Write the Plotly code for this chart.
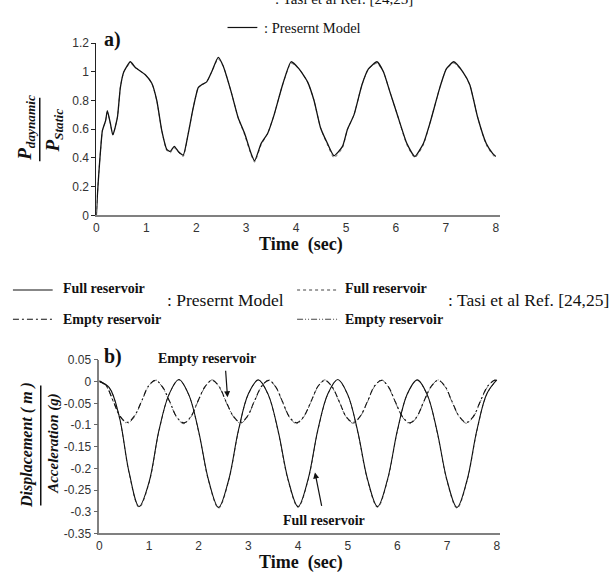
import plotly.graph_objects as go

W, H = 614, 578

# ---------------- data: panel a) ----------------
time_a = [0.0, 0.02, 0.05, 0.085, 0.12, 0.185, 0.22, 0.28, 0.33, 0.42, 0.48, 0.55, 0.68, 0.78,
          0.98, 1.11, 1.21, 1.31, 1.41, 1.48, 1.56, 1.64, 1.74, 1.84, 1.94, 2.04, 2.11, 2.21,
          2.31, 2.44, 2.54, 2.70, 2.84, 2.97, 3.10, 3.17, 3.30, 3.43, 3.56, 3.73, 3.90, 4.06,
          4.23, 4.36, 4.49, 4.63, 4.76, 4.93, 5.03, 5.16, 5.32, 5.45, 5.62, 5.75, 5.88, 6.02,
          6.22, 6.38, 6.55, 6.68, 6.88, 7.01, 7.16, 7.34, 7.48, 7.64, 7.81, 7.94, 8.0]
present_a = [0.0, 0.14, 0.30, 0.46, 0.59, 0.66, 0.73, 0.64, 0.56, 0.68, 0.89, 1.00, 1.07, 1.03,
             0.98, 0.92, 0.80, 0.59, 0.46, 0.445, 0.48, 0.445, 0.42, 0.57, 0.75, 0.89, 0.91, 0.93,
             1.00, 1.10, 1.04, 0.86, 0.68, 0.57, 0.43, 0.38, 0.50, 0.57, 0.70, 0.91, 1.07, 1.02,
             0.93, 0.80, 0.61, 0.50, 0.415, 0.48, 0.60, 0.70, 0.91, 1.02, 1.07, 1.00, 0.86, 0.71,
             0.50, 0.41, 0.50, 0.64, 0.89, 1.02, 1.07, 1.00, 0.91, 0.68, 0.50, 0.43, 0.41]
tasi_a = [0.0, 0.14, 0.30, 0.46, 0.59, 0.66, 0.72, 0.64, 0.56, 0.68, 0.89, 1.00, 1.06, 1.03,
          0.98, 0.92, 0.80, 0.59, 0.45, 0.435, 0.47, 0.44, 0.41, 0.57, 0.75, 0.89, 0.91, 0.93,
          1.00, 1.09, 1.04, 0.86, 0.68, 0.56, 0.42, 0.37, 0.49, 0.57, 0.70, 0.91, 1.06, 1.02,
          0.93, 0.80, 0.61, 0.49, 0.40, 0.47, 0.60, 0.70, 0.91, 1.02, 1.06, 1.00, 0.86, 0.71,
          0.49, 0.40, 0.49, 0.64, 0.89, 1.02, 1.06, 1.00, 0.91, 0.68, 0.49, 0.42, 0.40]

# ---------------- data: panel b) ----------------
time_full = [0.0, 0.2, 0.4, 0.6, 0.8, 1.0, 1.2, 1.4, 1.6, 1.8, 2.0, 2.2, 2.4, 2.6, 2.8, 3.0,
             3.2, 3.4, 3.6, 3.8, 4.0, 4.2, 4.4, 4.6, 4.8, 5.0, 5.2, 5.4, 5.6, 5.8, 6.0, 6.2,
             6.4, 6.6, 6.8, 7.0, 7.2, 7.4, 7.6, 7.8, 8.0]
present_full = [0.0, -0.014, -0.080, -0.210, -0.288, -0.232, -0.112, -0.030, 0.005, -0.030,
                -0.115, -0.228, -0.290, -0.228, -0.112, -0.028, 0.004, -0.030, -0.114, -0.226,
                -0.288, -0.226, -0.110, -0.028, 0.005, -0.030, -0.114, -0.226, -0.288, -0.226,
                -0.112, -0.028, 0.004, -0.030, -0.115, -0.228, -0.290, -0.228, -0.112, -0.028,
                0.004]
tasi_full = [0.0, -0.015, -0.082, -0.212, -0.290, -0.234, -0.114, -0.031, 0.004, -0.031,
             -0.117, -0.230, -0.292, -0.230, -0.114, -0.029, 0.003, -0.031, -0.116, -0.228,
             -0.290, -0.228, -0.112, -0.029, 0.004, -0.031, -0.116, -0.228, -0.290, -0.228,
             -0.114, -0.029, 0.003, -0.031, -0.117, -0.230, -0.292, -0.230, -0.114, -0.029,
             0.003]

time_empty = [0.00, 0.14, 0.28, 0.42, 0.56, 0.70, 0.85, 0.99, 1.13, 1.27, 1.42, 1.56, 1.70,
              1.84, 1.98, 2.13, 2.27, 2.41, 2.55, 2.70, 2.84, 2.98, 3.12, 3.27, 3.41, 3.55,
              3.69, 3.83, 3.97, 4.11, 4.26, 4.40, 4.54, 4.68, 4.83, 4.97, 5.11, 5.25, 5.40,
              5.54, 5.68, 5.82, 5.96, 6.11, 6.25, 6.39, 6.53, 6.68, 6.82, 6.96, 7.10, 7.25,
              7.39, 7.53, 7.67, 7.82, 7.96, 8.00]
present_empty = [0.002, -0.010, -0.045, -0.080, -0.094, -0.080, -0.045, -0.010, 0.003, -0.012,
                 -0.047, -0.082, -0.095, -0.081, -0.046, -0.011, 0.003, -0.011, -0.046, -0.080,
                 -0.094, -0.080, -0.045, -0.010, 0.003, -0.012, -0.047, -0.082, -0.095, -0.081,
                 -0.046, -0.011, 0.003, -0.011, -0.046, -0.081, -0.094, -0.080, -0.045, -0.010,
                 0.003, -0.012, -0.047, -0.082, -0.095, -0.081, -0.046, -0.011, 0.003, -0.011,
                 -0.046, -0.081, -0.094, -0.080, -0.045, -0.010, 0.003, 0.002]
tasi_empty = [0.002, -0.011, -0.046, -0.081, -0.096, -0.082, -0.046, -0.011, 0.004, -0.013,
              -0.048, -0.083, -0.097, -0.082, -0.047, -0.012, 0.004, -0.012, -0.047, -0.081,
              -0.096, -0.081, -0.046, -0.011, 0.004, -0.013, -0.048, -0.083, -0.097, -0.082,
              -0.047, -0.012, 0.004, -0.012, -0.047, -0.082, -0.096, -0.081, -0.046, -0.011,
              0.004, -0.013, -0.048, -0.083, -0.097, -0.082, -0.047, -0.012, 0.004, -0.012,
              -0.047, -0.082, -0.096, -0.081, -0.046, -0.011, 0.004, 0.003]

ticks_a = [0, 0.2, 0.4, 0.6, 0.8, 1.0, 1.2]
ticktext_a = ["0", "0.2", "0.4", "0.6", "0.8", "1", "1.2"]
ticks_b = [0.05, 0, -0.05, -0.1, -0.15, -0.2, -0.25, -0.3, -0.35]
ticktext_b = ["0.05", "0", "-0.05", "-0.1", "-0.15", "-0.2", "-0.25", "-0.3", "-0.35"]
ticks_x = [0, 1, 2, 3, 4, 5, 6, 7, 8]


def px(x):
    return x / W


def py(y):
    return 1 - y / H


SERIF = "Liberation Serif, Times New Roman, serif"
SANS = "Liberation Sans, Arial, sans-serif"

fig = go.Figure()

# panel a)
fig.add_trace(go.Scatter(x=time_a, y=tasi_a, mode="lines", xaxis="x", yaxis="y",
                         line=dict(color="#777777", width=1, dash="dot", shape="spline", smoothing=0.5),
                         showlegend=False))
fig.add_trace(go.Scatter(x=time_a, y=present_a, mode="lines", xaxis="x", yaxis="y",
                         line=dict(color="#111111", width=1.3, shape="spline", smoothing=0.5),
                         showlegend=False))

# panel b)
fig.add_trace(go.Scatter(x=time_full, y=tasi_full, mode="lines", xaxis="x2", yaxis="y2",
                         line=dict(color="#666666", width=1, dash="dot", shape="spline", smoothing=1.0),
                         showlegend=False))
fig.add_trace(go.Scatter(x=time_empty, y=tasi_empty, mode="lines", xaxis="x2", yaxis="y2",
                         line=dict(color="#666666", width=1, dash="6px,2px,1px,2px,1px,2px", shape="spline", smoothing=1.0),
                         showlegend=False))
fig.add_trace(go.Scatter(x=time_full, y=present_full, mode="lines", xaxis="x2", yaxis="y2",
                         line=dict(color="#111111", width=1.1, shape="spline", smoothing=1.0),
                         showlegend=False))
fig.add_trace(go.Scatter(x=time_empty, y=present_empty, mode="lines", xaxis="x2", yaxis="y2",
                         line=dict(color="#111111", width=1.1, dash="6px,3px,2px,3px", shape="spline", smoothing=1.0),
                         showlegend=False))

axis_common = dict(showgrid=False, zeroline=False, tickfont=dict(family=SANS, size=12, color="#333333"))

fig.update_layout(
    width=W, height=H,
    margin=dict(l=0, r=0, t=0, b=0),
    paper_bgcolor="white", plot_bgcolor="white",
    xaxis=dict(domain=[px(94), px(500)], range=[0, 8.08], tickvals=ticks_x, ticks="",
               showline=True, linecolor="#808080", linewidth=2, anchor="y", **axis_common),
    yaxis=dict(domain=[py(213.5), py(37)], range=[0, 1.2], tickvals=ticks_a, ticktext=ticktext_a,
               ticks="outside", ticklen=4, tickcolor="#222222", showline=True, linecolor="#222222",
               linewidth=1, anchor="x", **axis_common),
    xaxis2=dict(domain=[px(97), px(500)], range=[0, 8.06], tickvals=ticks_x, ticks="",
                showline=True, linecolor="#808080", linewidth=2, anchor="y2", **axis_common),
    yaxis2=dict(domain=[py(539.5), py(361.7)], range=[-0.35, 0.05], tickvals=ticks_b, ticktext=ticktext_b,
                ticks="outside", ticklen=4, tickcolor="#666666", showline=True, linecolor="#808080",
                linewidth=1.5, anchor="x2", **axis_common),
)

ann = []
shapes = []


def text(x, y, t, size, xanchor="left", family=SERIF, angle=0, color="#111111"):
    ann.append(dict(x=px(x), y=py(y), xref="paper", yref="paper", text=t, showarrow=False,
                    xanchor=xanchor, yanchor="middle", textangle=angle,
                    font=dict(family=family, size=size, color=color)))


def seg(x0, y0, x1, y1, dash="solid", color="#111111", width=1.2):
    shapes.append(dict(type="line", xref="paper", yref="paper", x0=px(x0), y0=py(y0),
                       x1=px(x1), y1=py(y1), line=dict(color=color, width=width, dash=dash)))


# partial (cropped) line at very top
text(272, -8, ": Tasi et al Ref. [24,25]", 15)

# top legend
seg(226, 21, 256, 21)
text(261, 22, ": Presernt Model", 14.5)

# panel labels
text(100, 33, "<b>a)</b>", 20)
text(100, 358, "<b>b)</b>", 20)

# panel a) y title (fraction)
text(23, 124, "<b><i>P</i></b><sub><b><i>daynamic</i></b></sub>", 19, xanchor="center", angle=-90)
seg(37, 93, 37, 158, width=1.5)
text(51, 127, "<b><i>P</i></b><sub><b><i>Static</i></b></sub>", 19, xanchor="center", angle=-90)

# x titles
text(300, 243, "<b>Time  (sec)</b>", 18, xanchor="center")
text(300, 569, "<b>Time  (sec)</b>", 18, xanchor="center")

# middle legend
seg(10, 290, 50, 290)
text(58, 288, "<b>Full reservoir</b>", 14)
seg(10, 320, 50, 320, dash="6px,3px,2px,3px")
text(58, 320, "<b>Empty reservoir</b>", 14)
text(163, 300, ": Presernt Model", 17.5)
seg(296, 290, 338, 290, dash="dot", color="#444444")
text(342, 288, "<b>Full reservoir</b>", 14)
seg(296, 320, 338, 320, dash="6px,2px,1px,2px,1px,2px", color="#444444")
text(342, 320, "<b>Empty reservoir</b>", 14)
text(446, 300, ": Tasi et al Ref. [24,25]", 17.5)

# panel b) y title (fraction)
text(24, 449, "<b><i>Displacement ( m )</i></b>", 16, xanchor="center", angle=-90)
seg(38, 388, 38, 511, width=1.5)
text(50, 447, "<b><i>Acceleration (g)</i></b>", 15, xanchor="center", angle=-90)

# curve labels with arrows
text(205, 360, "<b>Empty reservoir</b>", 14, xanchor="center")
ann.append(dict(x=px(226), y=py(400), xref="paper", yref="paper", ax=-2, ay=-28,
                text="", showarrow=True, arrowhead=2, arrowsize=1, arrowwidth=1.2, arrowcolor="#111111"))
text(323, 526, "<b>Full reservoir</b>", 14, xanchor="center")
ann.append(dict(x=px(314), y=py(477), xref="paper", yref="paper", ax=7, ay=35,
                text="", showarrow=True, arrowhead=2, arrowsize=1, arrowwidth=1.2, arrowcolor="#111111"))

fig.update_layout(annotations=ann, shapes=shapes)

fig.write_html("out.html", config={"displayModeBar": False},
               post_script="document.body.style.margin='0';document.body.style.overflow='hidden';")
